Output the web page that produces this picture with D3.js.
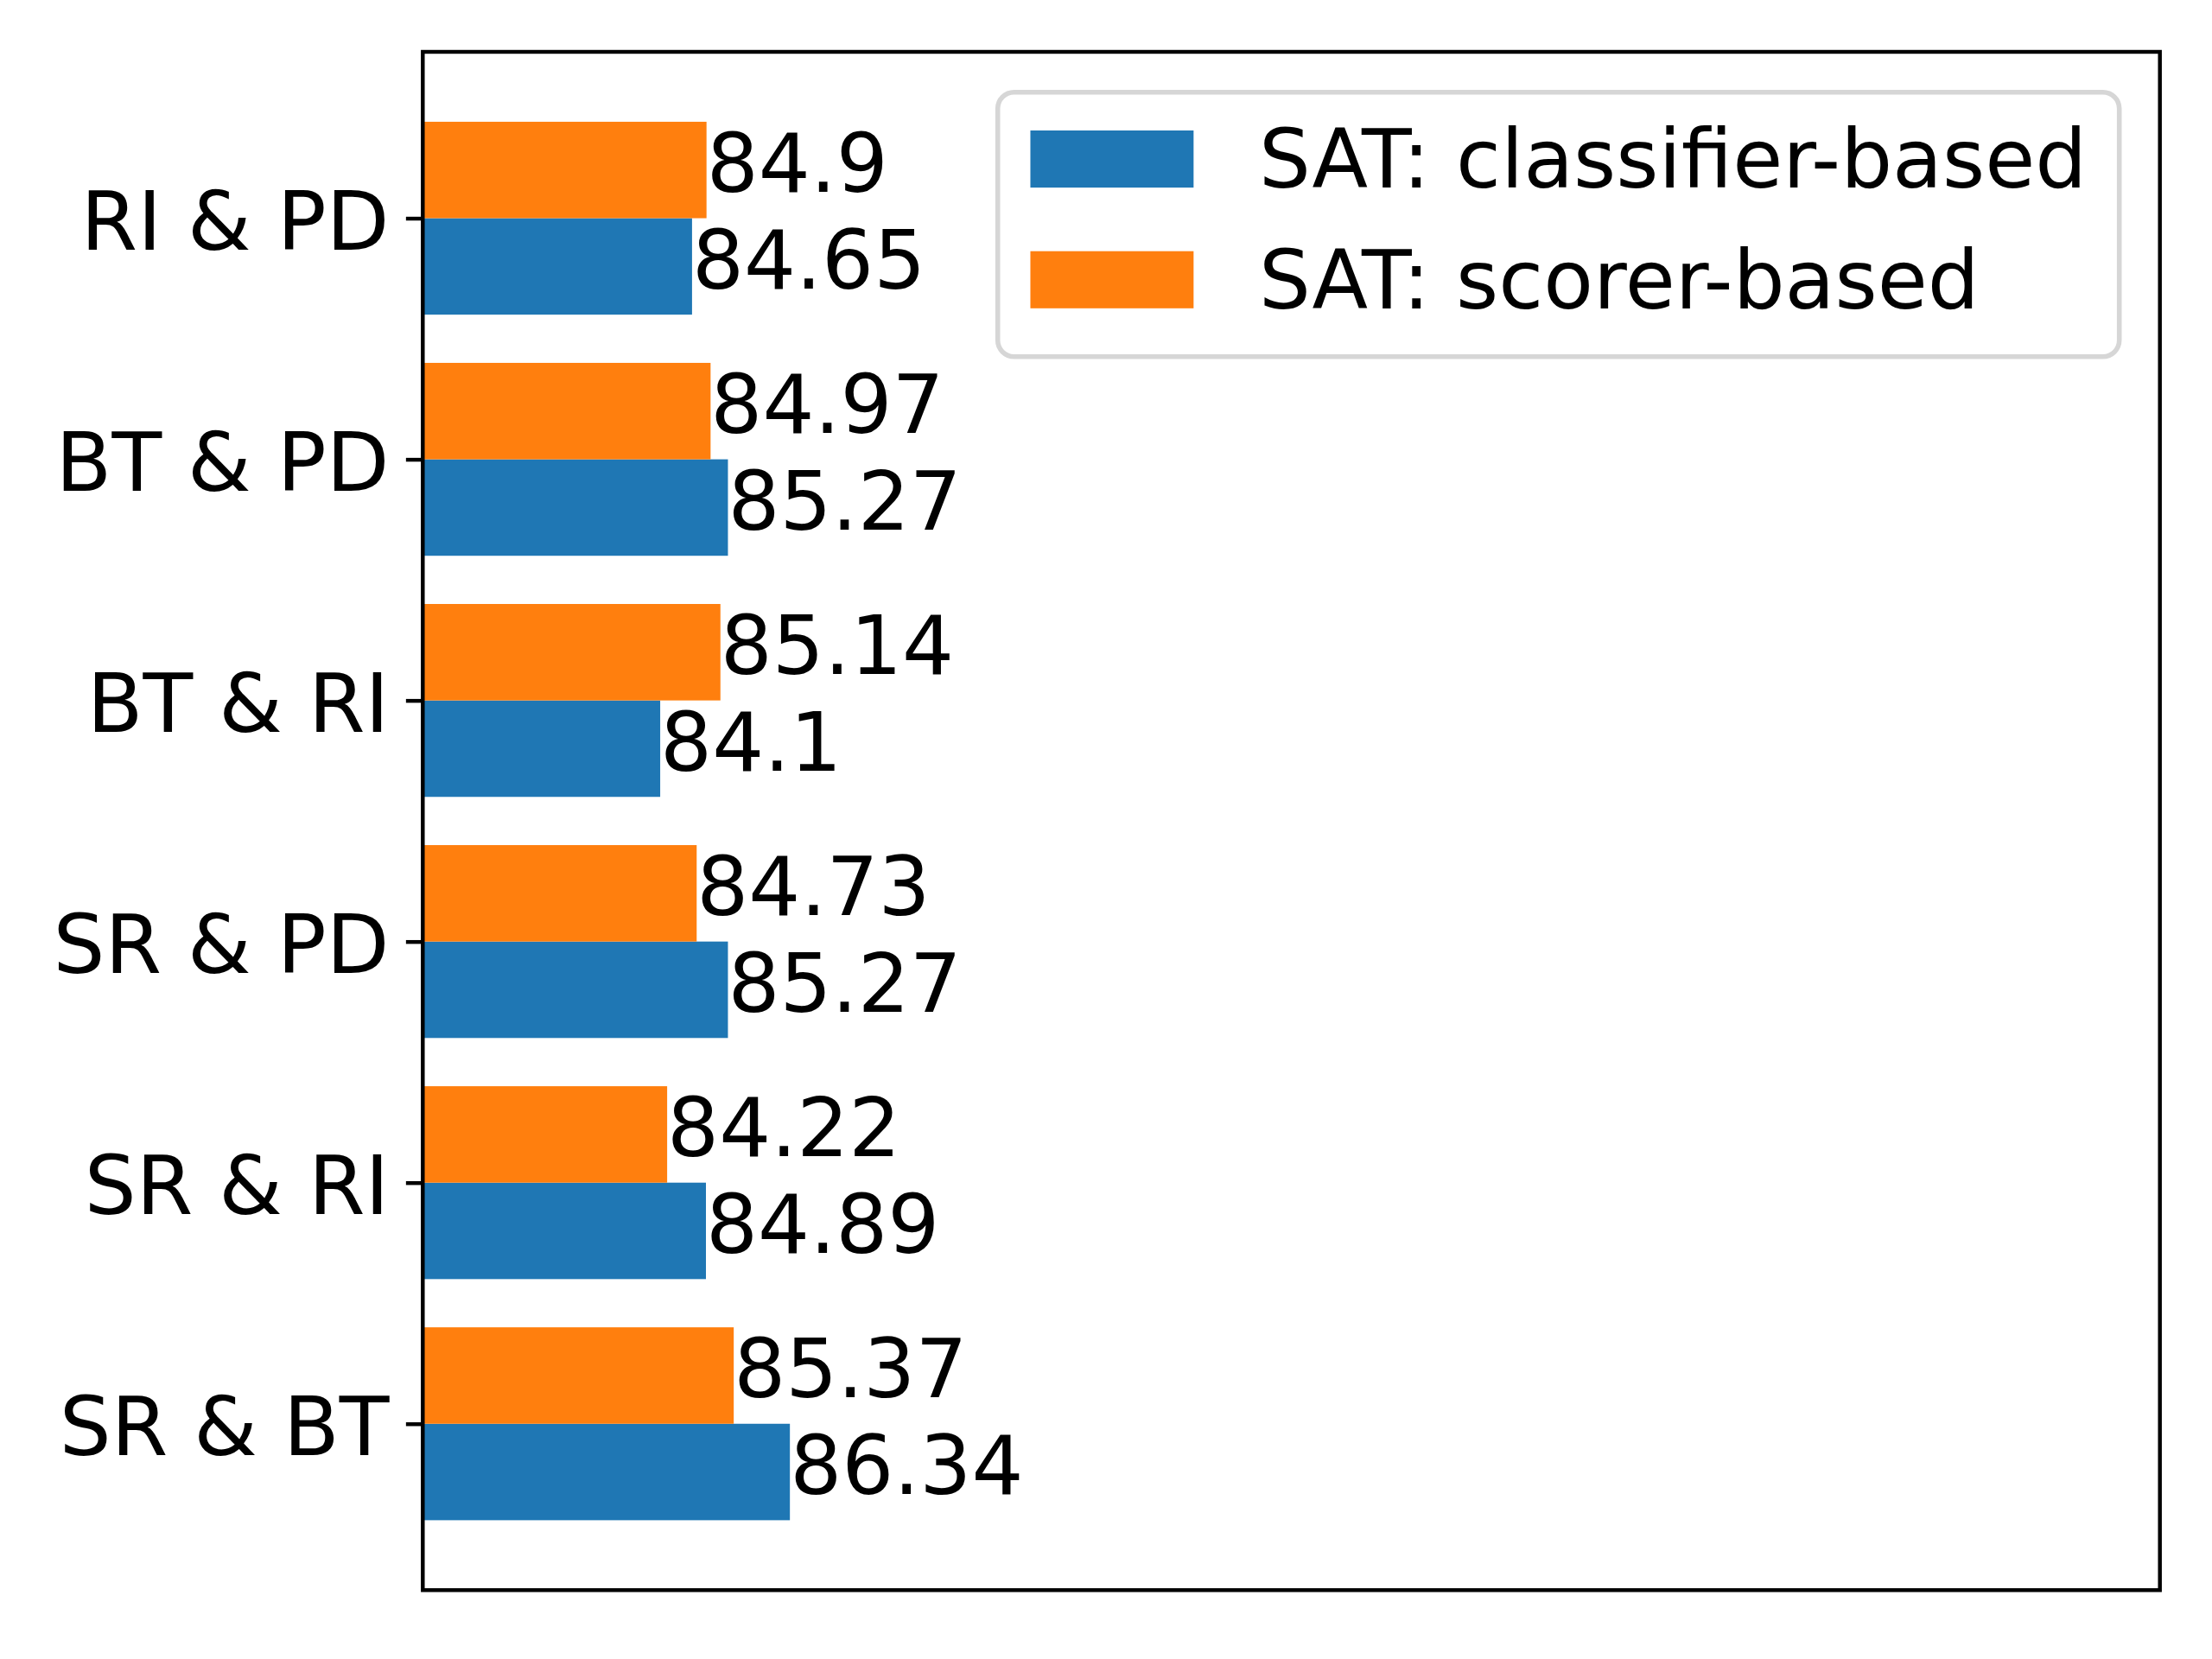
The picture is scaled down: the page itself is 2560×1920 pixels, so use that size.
<!DOCTYPE html>
<html>
<head>
<meta charset="utf-8">
<script src="https://cdn.jsdelivr.net/npm/d3@7"></script>
<style>
  body { margin: 0; background: #fff; }
  svg { display: block; }
  text { font-family: "DejaVu Sans", sans-serif; }
</style>
</head>
<body>
<div id="chart"></div>
<script>
// categories from bottom (y = 0) to top (y = 5)
var categories = ["SR & BT", "SR & RI", "SR & PD", "BT & RI", "BT & PD", "RI & PD"];
var classifierBased = [86.34, 84.89, 85.27, 84.1, 85.27, 84.65];
var scorerBased = [85.37, 84.22, 84.73, 85.14, 84.97, 84.9];
var seriesNames = ["SAT: classifier-based", "SAT: scorer-based"];
var seriesColors = ["#1f77b4", "#ff7f0e"];

var W = 2560, H = 1920;
var fs = 94.44;            // 17pt at 400 dpi
var pt = 400 / 72;
var plot = { left: 489.3, right: 2499.7, top: 60, bottom: 1840.3 };
var barH = 0.4;

var svg = d3.select("#chart").append("svg")
    .attr("width", W).attr("height", H);

var x = d3.scaleLinear().domain([80, 110]).range([plot.left, plot.right]);
var pad = (categories.length - 1 + 2 * barH) * 0.05;
var y = d3.scaleLinear()
    .domain([-barH - pad, categories.length - 1 + barH + pad])
    .range([plot.bottom, plot.top]);

var series = [
  { name: seriesNames[0], color: seriesColors[0], values: classifierBased, off: -barH / 2 },
  { name: seriesNames[1], color: seriesColors[1], values: scorerBased, off: barH / 2 }
];

// bars
series.forEach(function(s) {
  var g = svg.append("g");
  g.selectAll("rect").data(s.values).enter().append("rect")
      .attr("x", x(80))
      .attr("y", function(d, i) { return y(i + s.off + barH / 2); })
      .attr("width", function(d) { return x(d) - x(80); })
      .attr("height", function(d, i) { return y(i + s.off - barH / 2) - y(i + s.off + barH / 2); })
      .attr("fill", s.color);

  // value labels, va = center
  g.selectAll("text").data(s.values).enter().append("text")
      .attr("x", function(d) { return x(d); })
      .attr("y", function(d, i) { return y(i + s.off) + 0.2685 * fs; })
      .attr("font-size", fs)
      .attr("fill", "#000")
      .text(function(d) { return String(d); });
});

// y axis
var yAxis = d3.axisLeft(y)
    .tickValues(d3.range(categories.length))
    .tickFormat(function(i) { return categories[i]; })
    .tickSize(3.5 * pt)
    .tickPadding(3.5 * pt);

var ax = svg.append("g")
    .attr("transform", "translate(" + plot.left + ",0)")
    .call(yAxis);
ax.select(".domain").remove();
ax.selectAll(".tick line").attr("stroke", "#000").attr("stroke-width", 0.8 * pt);
ax.selectAll(".tick text")
    .attr("font-size", fs)
    .attr("font-family", "DejaVu Sans, sans-serif")
    .attr("fill", "#000")
    .attr("dy", "0.38em");

// spines
svg.append("rect")
    .attr("x", plot.left).attr("y", plot.top)
    .attr("width", plot.right - plot.left)
    .attr("height", plot.bottom - plot.top)
    .attr("fill", "none")
    .attr("stroke", "#000")
    .attr("stroke-width", 0.8 * pt);

// legend (upper right)
var leg = { x: 1154.7, y: 106.7, w: 1298, h: 306 };
var lg = svg.append("g");
lg.append("rect")
    .attr("x", leg.x).attr("y", leg.y)
    .attr("width", leg.w).attr("height", leg.h)
    .attr("rx", 0.2 * fs).attr("ry", 0.2 * fs)
    .attr("fill", "#fff").attr("fill-opacity", 0.8)
    .attr("stroke", "#d6d6d6")
    .attr("stroke-width", 1.0 * pt);

var items = lg.selectAll("g.item").data(series).enter().append("g")
    .attr("class", "item")
    .attr("transform", function(d, i) { return "translate(0," + (i * 139.7) + ")"; });

items.append("rect")
    .attr("x", leg.x + 0.4 * fs)
    .attr("y", 151)
    .attr("width", 2.0 * fs)
    .attr("height", 0.7 * fs)
    .attr("fill", function(d) { return d.color; });

items.append("text")
    .attr("x", leg.x + 0.4 * fs + 2.0 * fs + 0.8 * fs)
    .attr("y", 217)
    .attr("font-size", fs)
    .attr("fill", "#000")
    .text(function(d) { return d.name; });
</script>
</body>
</html>
